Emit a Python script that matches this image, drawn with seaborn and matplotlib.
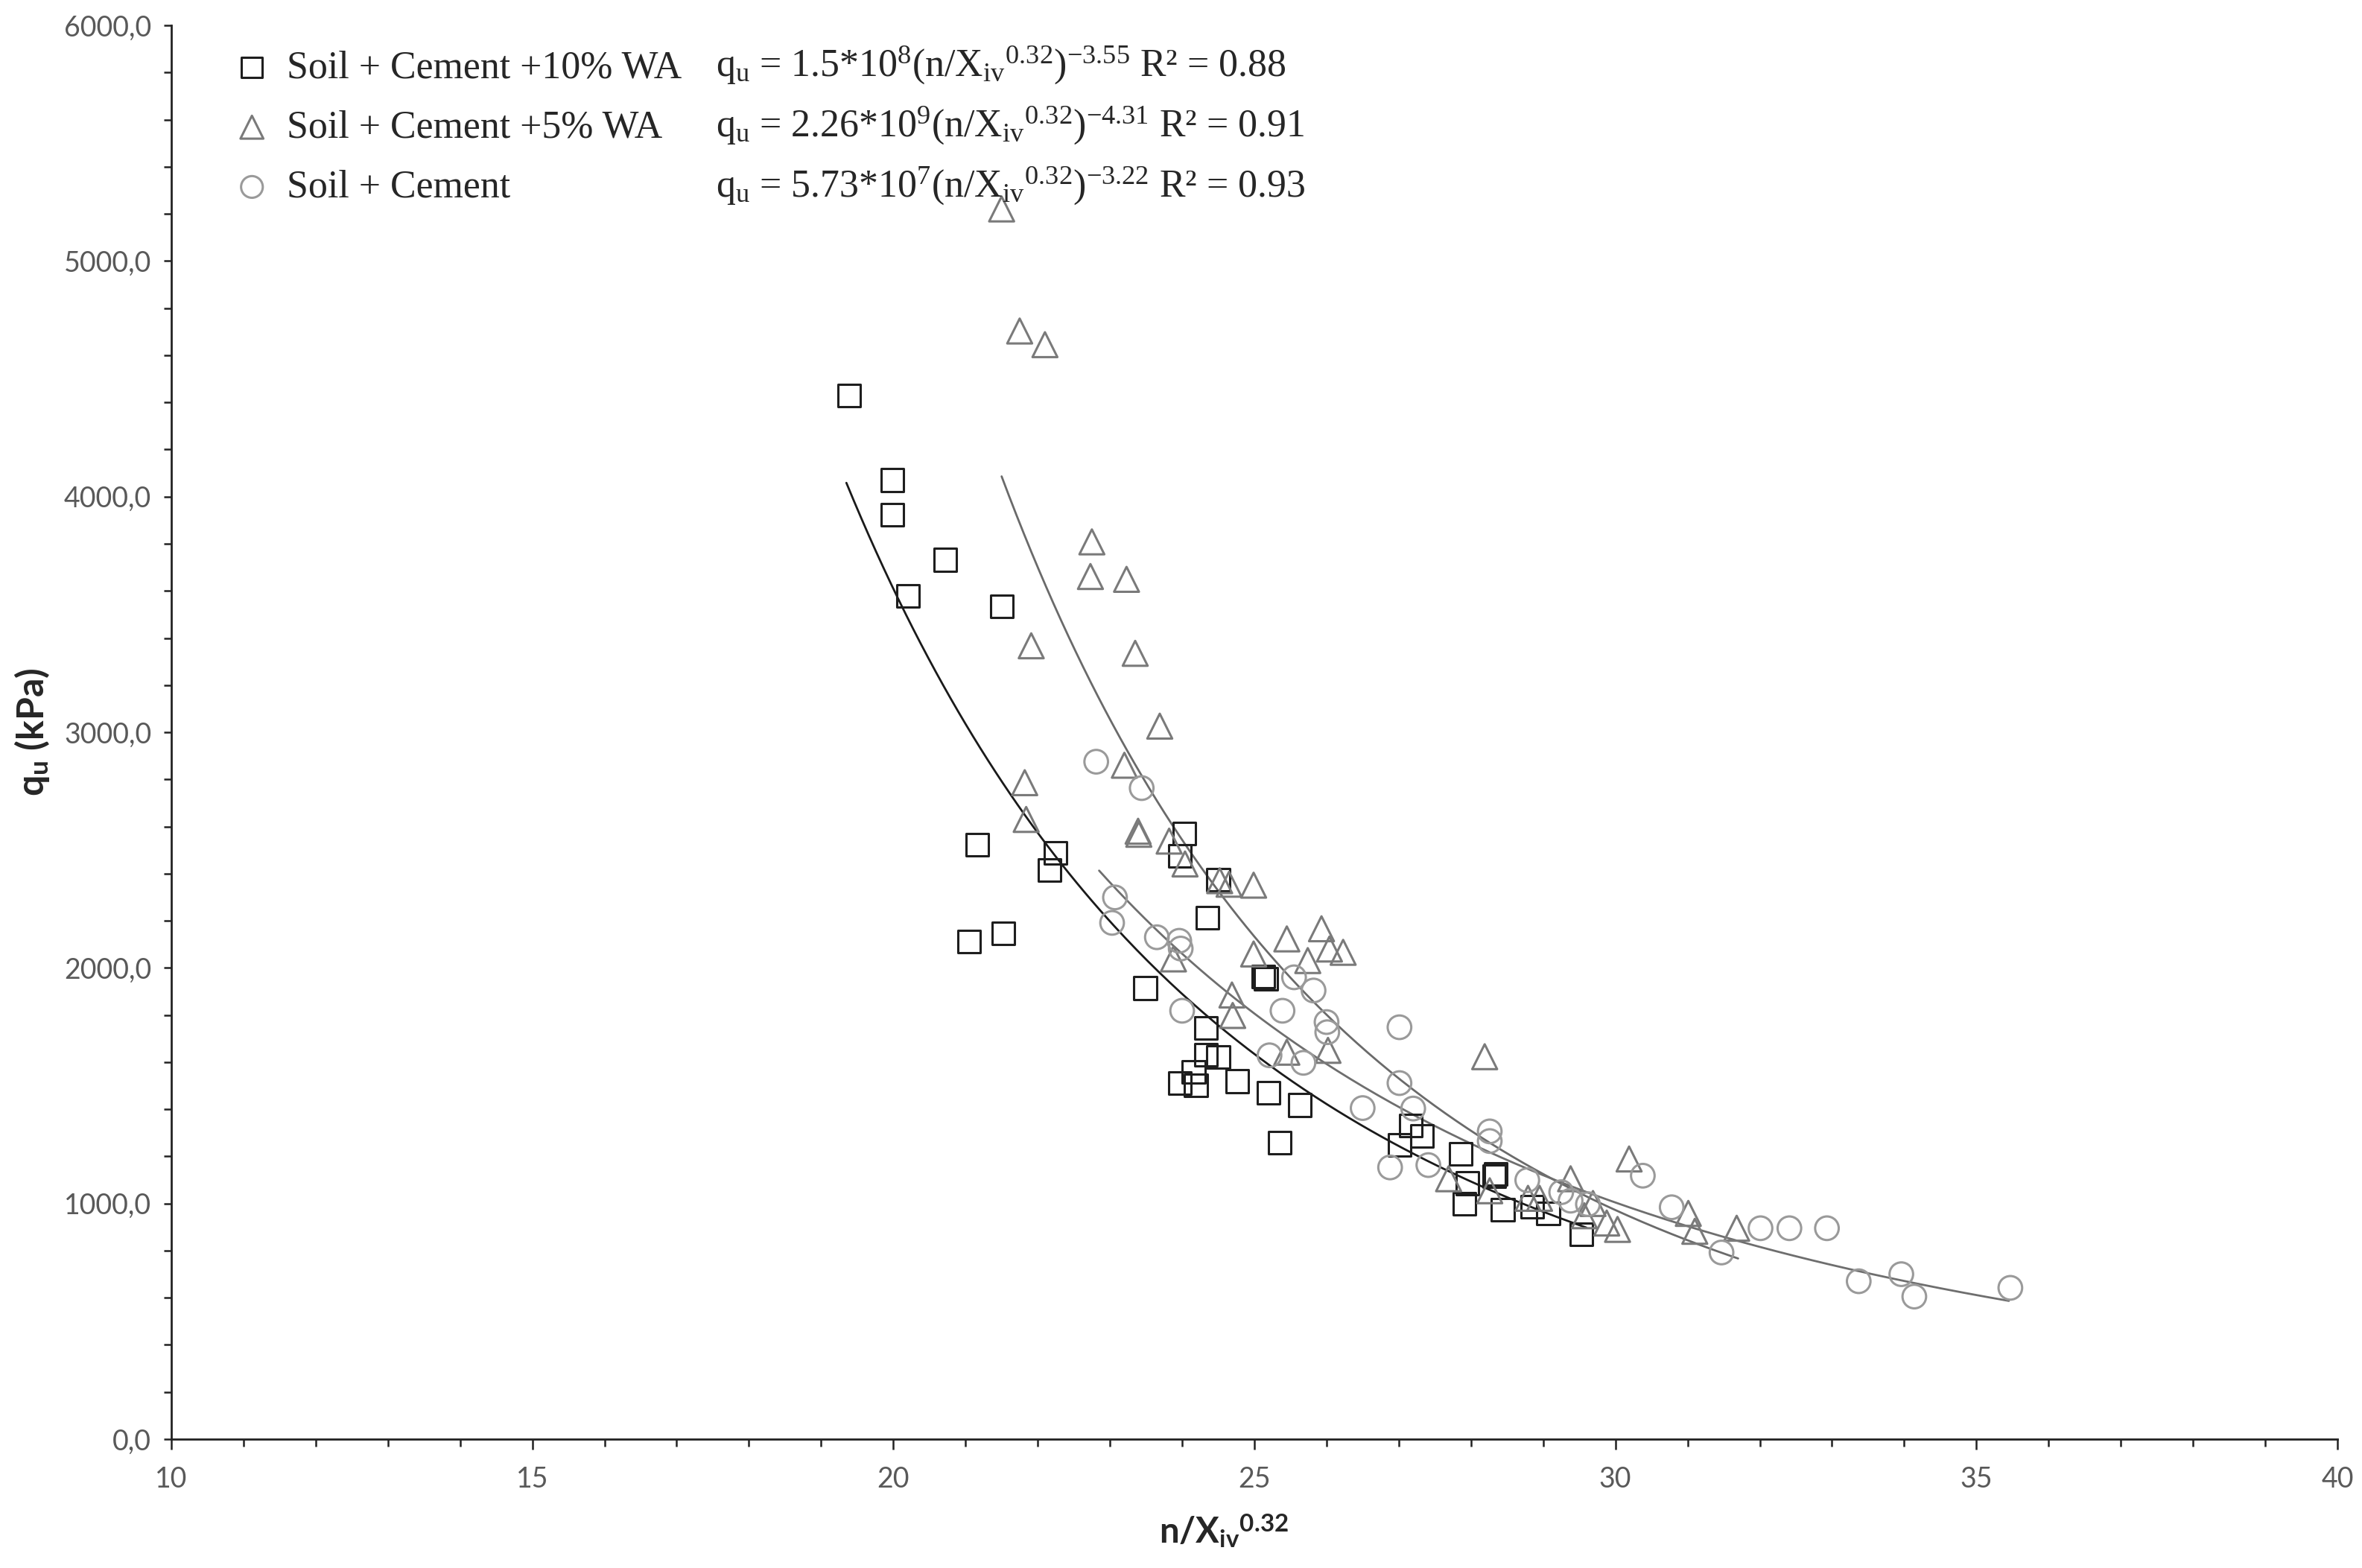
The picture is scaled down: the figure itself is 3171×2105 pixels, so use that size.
import numpy as np
import pandas as pd
import matplotlib
matplotlib.use("Agg")
import matplotlib.pyplot as plt
import matplotlib.ticker as ticker
import seaborn as sns

# data
sq_x = [19.39, 19.99, 19.99, 20.20, 20.72, 21.50, 21.16, 21.05, 21.52, 22.16, 22.25, 23.49, 24.03,
        23.97, 24.50, 24.35, 24.33, 24.33, 24.50, 23.97, 24.16, 24.19, 24.76, 25.12, 25.16, 25.20,
        25.63, 25.35, 27.01, 27.17, 27.32, 27.86, 27.91, 27.95, 28.32, 28.34, 28.44, 28.85, 29.07, 29.53]
sq_y = [4428, 4070, 3923, 3578, 3732, 3534, 2524, 2111, 2146, 2416, 2489, 1914, 2569,
        2475, 2374, 2214, 1744, 1630, 1623, 1512, 1558, 1502, 1519, 1964, 1953, 1470,
        1418, 1259, 1248, 1332, 1286, 1211, 1000, 1086, 1116, 1125, 974, 985, 958, 869]

tr_x = [21.50, 21.75, 22.10, 22.75, 22.73, 23.23, 21.91, 23.35, 23.69, 23.20, 21.82, 21.84, 23.40,
        23.39, 23.82, 24.04, 24.52, 24.65, 24.99, 25.45, 25.93, 24.99, 26.04, 26.23, 25.74, 23.88,
        24.69, 24.70, 25.45, 26.02, 28.19, 30.19, 27.69, 29.38, 28.26, 28.79, 28.95, 29.69, 29.57,
        29.88, 30.03, 31.01, 31.10, 31.68]
tr_y = [5221, 4703, 4645, 3808, 3661, 3649, 3367, 3335, 3026, 2860, 2786, 2630, 2567,
        2580, 2538, 2441, 2370, 2355, 2351, 2123, 2166, 2059, 2080, 2066, 2031, 2038,
        1885, 1798, 1642, 1650, 1623, 1189, 1105, 1105, 1054, 1022, 1022, 1000, 948,
        917, 890, 958, 882, 895]

ci_x = [22.81, 23.44, 23.07, 23.03, 23.65, 23.96, 23.98, 24.00, 25.39, 25.55, 25.82, 26.00, 26.01,
        25.21, 25.68, 27.01, 27.01, 26.50, 27.20, 26.88, 27.41, 28.26, 28.26, 28.78, 29.25, 29.38,
        29.62, 30.38, 30.78, 31.47, 32.01, 32.41, 32.93, 33.37, 33.96, 34.14, 35.47]
ci_y = [2875, 2763, 2299, 2191, 2130, 2115, 2082, 1818, 1818, 1960, 1904, 1770, 1727,
        1629, 1597, 1748, 1511, 1405, 1403, 1153, 1163, 1306, 1265, 1099, 1048, 1012,
        997, 1118, 984, 792, 895, 895, 895, 670, 700, 605, 642]

groups = ["Soil + Cement +10% WA", "Soil + Cement +5% WA", "Soil + Cement"]
fit_a = [1.5e8, 2.26e9, 5.73e7]
fit_b = [-3.55, -4.31, -3.22]
fit_range = [(19.35, 29.6), (21.5, 31.7), (22.85, 35.45)]
equations = [
    r"q$_\mathrm{u}$ = 1.5*10$^\mathrm{8}$(n/X$_\mathrm{iv}$$^\mathrm{0.32}$)$^\mathrm{-3.55}$ R² = 0.88",
    r"q$_\mathrm{u}$ = 2.26*10$^\mathrm{9}$(n/X$_\mathrm{iv}$$^\mathrm{0.32}$)$^\mathrm{-4.31}$ R² = 0.91",
    r"q$_\mathrm{u}$ = 5.73*10$^\mathrm{7}$(n/X$_\mathrm{iv}$$^\mathrm{0.32}$)$^\mathrm{-3.22}$ R² = 0.93",
]

markers = ["s", "^", "o"]
sizes = [118, 145, 130]
edge_cols = ["#1e1e1e", "#7a7a7a", "#9a9a9a"]
line_cols = ["#1a1a1a", "#6a6a6a", "#6e6e6e"]

df = pd.concat([
    pd.DataFrame({"x": sq_x, "y": sq_y, "group": groups[0]}),
    pd.DataFrame({"x": tr_x, "y": tr_y, "group": groups[1]}),
    pd.DataFrame({"x": ci_x, "y": ci_y, "group": groups[2]}),
])

sns.set_style("white")
plt.rcParams["font.family"] = ["Lato", "DejaVu Sans"]
plt.rcParams["mathtext.fontset"] = "custom"
plt.rcParams["mathtext.rm"] = "Liberation Serif"
plt.rcParams["mathtext.it"] = "Liberation Serif:italic"
plt.rcParams["mathtext.bf"] = "Lato:bold"

fig = plt.figure(figsize=(3171 / 200, 2105 / 200), dpi=200)
ax = fig.add_axes([0.0725, 0.0822, 0.9171, 0.9016])

for i, g in enumerate(groups):
    sub = df[df["group"] == g]
    sns.scatterplot(data=sub, x="x", y="y", marker=markers[i], s=sizes[i],
                    facecolor="none", edgecolor=edge_cols[i], linewidth=1.1,
                    label=g, ax=ax, zorder=3)
    lo, hi = fit_range[i]
    xs = np.linspace(lo, hi, 200)
    fit = pd.DataFrame({"x": xs, "y": fit_a[i] * xs ** fit_b[i]})
    sns.lineplot(data=fit, x="x", y="y", color=line_cols[i], linewidth=1.0, ax=ax,
                 zorder=2, legend=False)

ax.set_xlim(10, 40)
ax.set_ylim(0, 6000)
ax.xaxis.set_major_locator(ticker.MultipleLocator(5))
ax.xaxis.set_minor_locator(ticker.MultipleLocator(1))
ax.yaxis.set_major_locator(ticker.MultipleLocator(1000))
ax.yaxis.set_minor_locator(ticker.MultipleLocator(200))
ax.yaxis.set_major_formatter(ticker.FuncFormatter(lambda v, p: f"{v:.1f}".replace(".", ",")))

for s in ["top", "right"]:
    ax.spines[s].set_visible(False)
for s in ["left", "bottom"]:
    ax.spines[s].set_color("#222222")
    ax.spines[s].set_linewidth(1.0)

ax.tick_params(axis="both", which="both", direction="out", colors="#222222",
               labelcolor="#595959", labelsize=13.5, width=0.9)
ax.tick_params(axis="x", which="major", length=5, pad=8, bottom=True)
ax.tick_params(axis="x", which="minor", length=3.6, bottom=True)
ax.tick_params(axis="y", which="both", length=3.6, pad=6, left=True)

ax.set_xlabel(r"n/X$_\mathbf{iv}$$^\mathbf{0.32}$", fontsize=17, fontweight="bold")
ax.xaxis.set_label_coords(0.486, -0.052)
ax.set_ylabel(r"q$_\mathbf{u}$ (kPa)", fontsize=18, fontweight="bold", labelpad=6)

leg = ax.legend(loc="upper left", bbox_to_anchor=(0.0176, 0.999), frameon=False,
                prop={"family": "Liberation Serif", "size": 18.7},
                handletextpad=0.4, labelspacing=0.62, borderaxespad=0.2,
                handlelength=1.0, markerscale=0.92)

for i, eq in enumerate(equations):
    ax.text(0.2514, 0.9642 - i * 0.0426, eq, transform=ax.transAxes,
            fontsize=18.7, family="Liberation Serif", va="baseline", ha="left")

fig.savefig("out.png", dpi=200)
